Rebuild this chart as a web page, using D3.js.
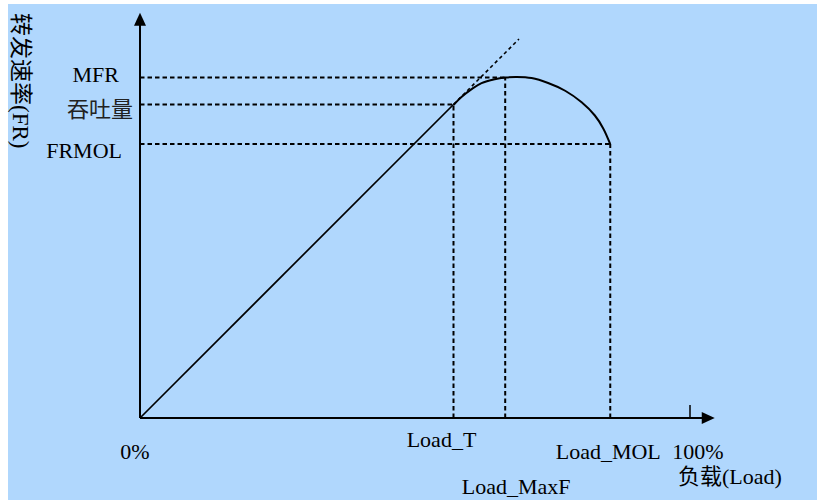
<!DOCTYPE html>
<html>
<head>
<meta charset="utf-8">
<script src="https://cdn.jsdelivr.net/npm/d3@7"></script>
<style>
  html, body { margin: 0; padding: 0; background: #ffffff; }
  svg { display: block; }
  text { font-family: "Liberation Serif", "Noto Sans CJK SC", serif; fill: #000; }
</style>
</head>
<body>
<div id="chart"></div>
<script>
// ---- data (load in %, forwarding rate in the same relative units) ----
const loadMarkNames = ["Load_T", "Load_MaxF", "Load_MOL"];
const loadMarkValues = [57.0, 66.4, 85.5];

const rateMarkNames = ["MFR", "吞吐量", "FRMOL"];
const rateMarkValues = [61.9, 57.0, 49.8];
// x extent of each horizontal reference line (load where it meets the curve)
const rateMarkLoads = [66.4, 57.0, 85.5];

const linearLoad = [0, 57.0];
const linearRate = [0, 57.0];

const curveLoad = [57.0, 58.5, 60.3, 62.1, 64.5, 66.4, 68.5, 71.2, 74.2, 77.3, 80.3, 82.7, 84.2, 85.5];
const curveRate = [56.9, 58.4, 59.8, 60.9, 61.6, 61.9, 62.0, 61.8, 60.9, 59.5, 57.4, 55.0, 52.7, 49.8];

const trendLoad = [57.0, 68.9];
const trendRate = [57.0, 68.9];

const xTickValues = [0, 100];
const xTickLabels = ["0%", "100%"];
const xAxisTitle = "负载(Load)";
const yAxisTitle = "转发速率(FR)";

// ---- layout ----
const W = 817, H = 500;
const x = d3.scaleLinear().domain([0, 100]).range([140, 690]);
const y = d3.scaleLinear().domain([0, 100]).range([418, -132]);
const xMax = 104.5, yMax = 73.7;

const svg = d3.select("#chart").append("svg").attr("width", W).attr("height", H);
svg.append("rect").attr("x", 8).attr("y", 4).attr("width", W - 8).attr("height", H - 4).attr("fill", "#b0d7fd");

const interp = (xs, ys, v) => {
  for (let i = 0; i < xs.length - 1; i++) {
    if (v >= xs[i] && v <= xs[i + 1]) {
      const t = (v - xs[i]) / (xs[i + 1] - xs[i]);
      return ys[i] + t * (ys[i + 1] - ys[i]);
    }
  }
  return ys[ys.length - 1];
};

// ---- dashed reference lines ----
const dash = "4.5,3";
rateMarkValues.forEach((v, i) => {
  svg.append("line")
    .attr("x1", x(0)).attr("x2", x(rateMarkLoads[i]))
    .attr("y1", y(v)).attr("y2", y(v))
    .attr("stroke", "#000").attr("stroke-width", 2).attr("stroke-dasharray", dash);
});
loadMarkValues.forEach((v) => {
  const top = interp(curveLoad, curveRate, v);
  svg.append("line")
    .attr("x1", x(v)).attr("x2", x(v))
    .attr("y1", y(0)).attr("y2", y(top))
    .attr("stroke", "#000").attr("stroke-width", 2).attr("stroke-dasharray", dash);
});

// ---- trend extension (dotted) ----
svg.append("line")
  .attr("x1", x(trendLoad[0])).attr("y1", y(trendRate[0]))
  .attr("x2", x(trendLoad[1])).attr("y2", y(trendRate[1]))
  .attr("stroke", "#000").attr("stroke-width", 1.6).attr("stroke-dasharray", "3.5,3");

// ---- main curve ----
const lineGen = d3.line().x(d => x(d[0])).y(d => y(d[1]));
svg.append("path")
  .attr("d", lineGen(linearLoad.map((v, i) => [v, linearRate[i]])))
  .attr("fill", "none").attr("stroke", "#000").attr("stroke-width", 1.7);
svg.append("path")
  .attr("d", lineGen.curve(d3.curveCatmullRom)(curveLoad.map((v, i) => [v, curveRate[i]])))
  .attr("fill", "none").attr("stroke", "#000").attr("stroke-width", 2);

// ---- axes with arrows ----
svg.append("line").attr("x1", x(0)).attr("y1", y(0)).attr("x2", x(xMax) - 12).attr("y2", y(0))
  .attr("stroke", "#000").attr("stroke-width", 2);
svg.append("path")
  .attr("d", `M${x(xMax)},${y(0)} L${x(xMax) - 13},${y(0) - 6} L${x(xMax) - 13},${y(0) + 6} Z`)
  .attr("fill", "#000");
svg.append("line").attr("x1", x(0)).attr("y1", y(0)).attr("x2", x(0)).attr("y2", y(yMax) + 12)
  .attr("stroke", "#000").attr("stroke-width", 2);
svg.append("path")
  .attr("d", `M${x(0)},${y(yMax)} L${x(0) - 6},${y(yMax) + 13} L${x(0) + 6},${y(yMax) + 13} Z`)
  .attr("fill", "#000");
// tick at 100%
svg.append("line").attr("x1", x(100)).attr("x2", x(100)).attr("y1", y(0)).attr("y2", y(0) - 13)
  .attr("stroke", "#000").attr("stroke-width", 1.5);

// ---- labels ----
const fs = 22;
// y-side labels
const yLabelOffsets = [[-21, 4], [-7, 12], [-18, 14]];
rateMarkNames.forEach((name, i) => {
  svg.append("text")
    .attr("x", x(0) + yLabelOffsets[i][0])
    .attr("y", y(rateMarkValues[i]) + yLabelOffsets[i][1])
    .attr("text-anchor", "end")
    .attr("font-size", fs)
    .style("fill", /[\u4e00-\u9fff]/.test(name) ? "#222" : "#000")
    .text(name);
});
// x-side labels
const xLabelOffsets = [[-12, 447], [11, 494], [-2, 459]];
loadMarkNames.forEach((name, i) => {
  svg.append("text")
    .attr("x", x(loadMarkValues[i]) + xLabelOffsets[i][0])
    .attr("y", xLabelOffsets[i][1])
    .attr("text-anchor", "middle")
    .attr("font-size", fs)
    .text(name);
});
const xTickOffsets = [-5, 8];
xTickValues.forEach((v, i) => {
  svg.append("text")
    .attr("x", x(v) + xTickOffsets[i]).attr("y", 459)
    .attr("text-anchor", "middle").attr("font-size", fs)
    .text(xTickLabels[i]);
});
svg.append("text")
  .attr("x", 678).attr("y", 484)
  .attr("font-size", fs)
  .text(xAxisTitle);
svg.append("text")
  .attr("transform", "translate(13,13) rotate(90)")
  .attr("font-size", 23)
  .text(yAxisTitle);
</script>
</body>
</html>
